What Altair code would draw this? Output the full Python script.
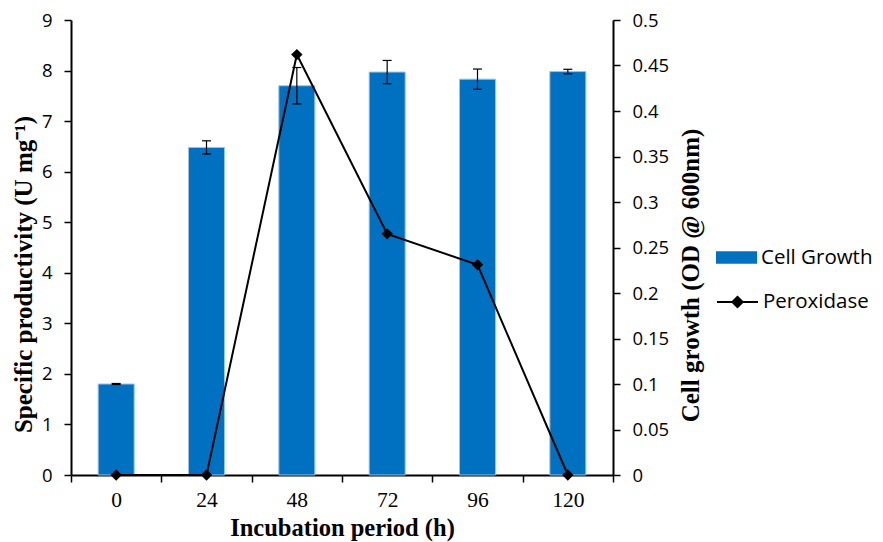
import altair as alt
import pandas as pd

hours = ["0", "24", "48", "72", "96", "120"]
cell_growth = [1.80, 6.48, 7.70, 7.97, 7.83, 7.98]
cell_err = [0.01, 0.13, 0.36, 0.23, 0.20, 0.045]
peroxidase = [0.0, 0.0, 0.462, 0.265, 0.231, 0.0]

left_ticks = [0, 1, 2, 3, 4, 5, 6, 7, 8, 9]
right_ticks = [0, 0.05, 0.1, 0.15, 0.2, 0.25, 0.3, 0.35, 0.4, 0.45, 0.5]

df = pd.DataFrame({
    "hour": hours,
    "cell": cell_growth,
    "lo": [v - e for v, e in zip(cell_growth, cell_err)],
    "hi": [v + e for v, e in zip(cell_growth, cell_err)],
    "perox": peroxidase,
    "s1": ["Cell Growth"] * len(hours),
    "s2": ["Peroxidase"] * len(hours),
})

x = alt.X(
    "hour:O",
    sort=hours,
    scale=alt.Scale(paddingInner=0, paddingOuter=0),
    axis=alt.Axis(
        title="Incubation period (h)",
        tickBand="extent",
        labelAngle=0,
        labelFont="Liberation Serif",
        labelFontSize=21.5,
        labelColor="black",
        labelPadding=7,
        tickSize=7,
        tickColor="black",
        tickWidth=1.5,
        domainColor="black",
        domainWidth=2,
        titleFont="Liberation Serif",
        titleFontWeight="bold",
        titleFontSize=24.5,
        titleColor="black",
        titleBaseline="alphabetic",
        titleY=60.5,
    ),
)

left_axis = alt.Axis(
    orient="left",
    values=left_ticks,
    title="Specific productivity (U mg⁻¹)",
    grid=False,
    labelFont="Open Sans",
    labelFontSize=18.5,
    labelColor="black",
    labelPadding=12,
    tickSize=7,
    tickColor="black",
    tickWidth=1.5,
    domainColor="black",
    domainWidth=2,
    titleFont="Liberation Serif",
    titleFontWeight="bold",
    titleFontSize=25,
    titleColor="black",
    titleBaseline="middle",
    titleX=-48,
    titleY=254,
)

right_axis = alt.Axis(
    orient="right",
    values=right_ticks,
    format=".2~f",
    title="Cell growth (OD @ 600nm)",
    grid=False,
    labelFont="Open Sans",
    labelFontSize=18.5,
    labelColor="black",
    labelPadding=12,
    tickSize=7,
    tickColor="black",
    tickWidth=1.5,
    domainColor="black",
    domainWidth=2,
    titleFont="Liberation Serif",
    titleFontWeight="bold",
    titleFontSize=25,
    titleColor="black",
    titleAngle=270,
    titleBaseline="middle",
    titleX=77,
    titleY=255,
)

left_scale = alt.Scale(domain=[0, 9], nice=False)
right_scale = alt.Scale(domain=[0, 0.5], nice=False)

bars = alt.Chart(df).mark_bar(size=36, stroke="#9DC3E6", strokeWidth=1).encode(
    x=x,
    y=alt.Y("cell:Q", scale=left_scale, axis=left_axis),
    fill=alt.Fill(
        "s1:N",
        scale=alt.Scale(domain=["Cell Growth"], range=["#0070C0"]),
        legend=alt.Legend(
            title=None,
            orient="none",
            legendX=645,
            legendY=217,
            padding=0,
            symbolType="M-1,-0.31H1V0.31H-1Z",
            symbolSize=1681,
            symbolStrokeWidth=0,
            labelFont="Open Sans",
            labelFontSize=20.5,
            labelColor="black",
            labelOffset=4,
        ),
    ),
)

err_rule = alt.Chart(df).mark_rule(color="black", strokeWidth=1.2).encode(
    x=x,
    y=alt.Y("lo:Q", scale=left_scale, axis=left_axis),
    y2="hi:Q",
)
cap_lo = alt.Chart(df).mark_tick(color="black", size=9, thickness=1.2, opacity=1).encode(
    x=x, y=alt.Y("lo:Q", scale=left_scale, axis=left_axis)
)
cap_hi = alt.Chart(df).mark_tick(color="black", size=9, thickness=1.2, opacity=1).encode(
    x=x, y=alt.Y("hi:Q", scale=left_scale, axis=left_axis)
)

line = alt.Chart(df).mark_line(strokeWidth=2).encode(
    x=x,
    y=alt.Y("perox:Q", scale=right_scale, axis=right_axis),
    stroke=alt.Stroke(
        "s2:N",
        scale=alt.Scale(domain=["Peroxidase"], range=["black"]),
        legend=alt.Legend(
            title=None,
            orient="none",
            legendX=645,
            legendY=260.5,
            padding=0,
            symbolType="M-1,0H1M-0.25,0L0,-0.25L0.25,0L0,0.25Z",
            symbolSize=1681,
            symbolStrokeWidth=2,
            symbolFillColor="black",
            labelFont="Open Sans",
            labelFontSize=20.5,
            labelColor="black",
            labelOffset=4,
        ),
    ),
)
points = alt.Chart(df).mark_point(shape="diamond", filled=True, size=130, color="black", opacity=1).encode(
    x=x,
    y=alt.Y("perox:Q", scale=right_scale, axis=right_axis),
)

left_layer = alt.layer(bars, err_rule, cap_lo, cap_hi)
right_layer = alt.layer(line, points)

chart = alt.layer(left_layer, right_layer).resolve_scale(
    y="independent", fill="independent", stroke="independent"
).properties(
    width=542,
    height=455,
    padding={"left": 63, "top": 12, "right": 260, "bottom": 67},
    autosize=alt.AutoSizeParams(type="none"),
    background="white",
).configure_view(stroke=None)

chart.save("out.html", embed_options={"renderer": "svg", "actions": False})
